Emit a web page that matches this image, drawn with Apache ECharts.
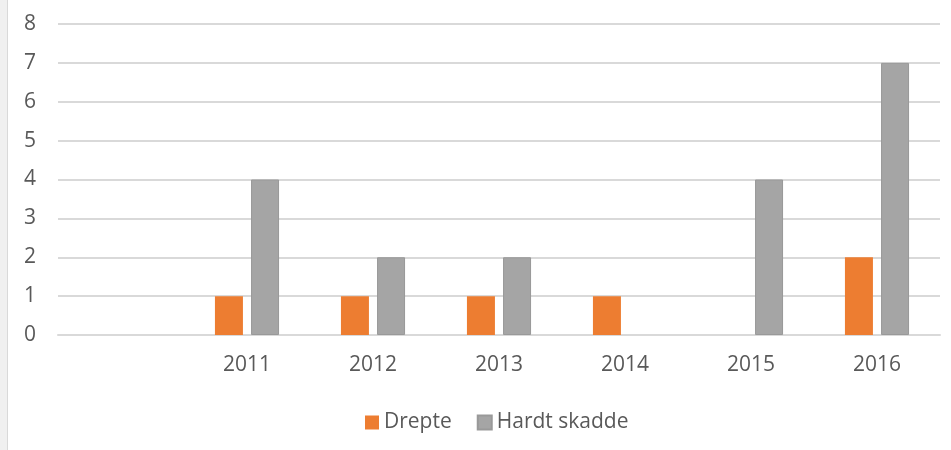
<!DOCTYPE html>
<html>
<head>
<meta charset="utf-8">
<script src="https://cdn.jsdelivr.net/npm/echarts@6/dist/echarts.min.js"></script>
<style>
  html, body { margin: 0; padding: 0; background: #fff; }
  #chart { width: 951px; height: 450px; }
</style>
</head>
<body>
<div id="chart"></div>
<script>
// data
const years = ['', '2011', '2012', '2013', '2014', '2015', '2016']
const drepte = [null, 1, 1, 1, 1, null, 2]
const hardtSkadde = [null, 4, 2, 2, null, 4, 7]

let myChart = echarts.init(document.getElementById('chart'))

myChart.setOption({
  animation: false,
  textStyle: { fontFamily: 'Open Sans, Noto Sans, sans-serif' },
  graphic: [
    { type: 'rect', shape: { x: 0, y: 0, width: 7, height: 450 }, style: { fill: '#f0f0f0' } },
    { type: 'rect', shape: { x: 7, y: 0, width: 1, height: 450 }, style: { fill: '#d9d9d9' } }
  ],
  grid: { left: 58, right: 11, top: 24, bottom: 115 },
  legend: {
    bottom: 12,
    left: 360,
    itemWidth: 14,
    itemHeight: 14,
    itemGap: 25,
    icon: 'rect',
    textStyle: { color: '#595959', fontSize: 21 },
    data: ['Drepte', 'Hardt skadde']
  },
  xAxis: {
    type: 'category',
    data: years,
    axisLine: { lineStyle: { color: '#d9d9d9', width: 2 } },
    axisTick: { show: false },
    axisLabel: { color: '#595959', fontSize: 21, margin: 20, interval: 0 }
  },
  yAxis: {
    type: 'value',
    min: 0,
    max: 8,
    interval: 1,
    axisLine: { show: false },
    axisTick: { show: false },
    splitLine: { lineStyle: { color: '#d9d9d9', width: 2 } },
    axisLabel: { color: '#595959', fontSize: 21, margin: 22 }
  },
  series: [
    {
      type: 'bar',
      name: 'Drepte',
      data: drepte,
      barWidth: 28,
      barGap: '29%',
      itemStyle: { color: '#ed7d31' }
    },
    {
      type: 'bar',
      name: 'Hardt skadde',
      data: hardtSkadde,
      barWidth: 28,
      itemStyle: { color: '#a5a5a5', borderColor: '#999999', borderWidth: 1 }
    }
  ]
})
</script>
</body>
</html>
